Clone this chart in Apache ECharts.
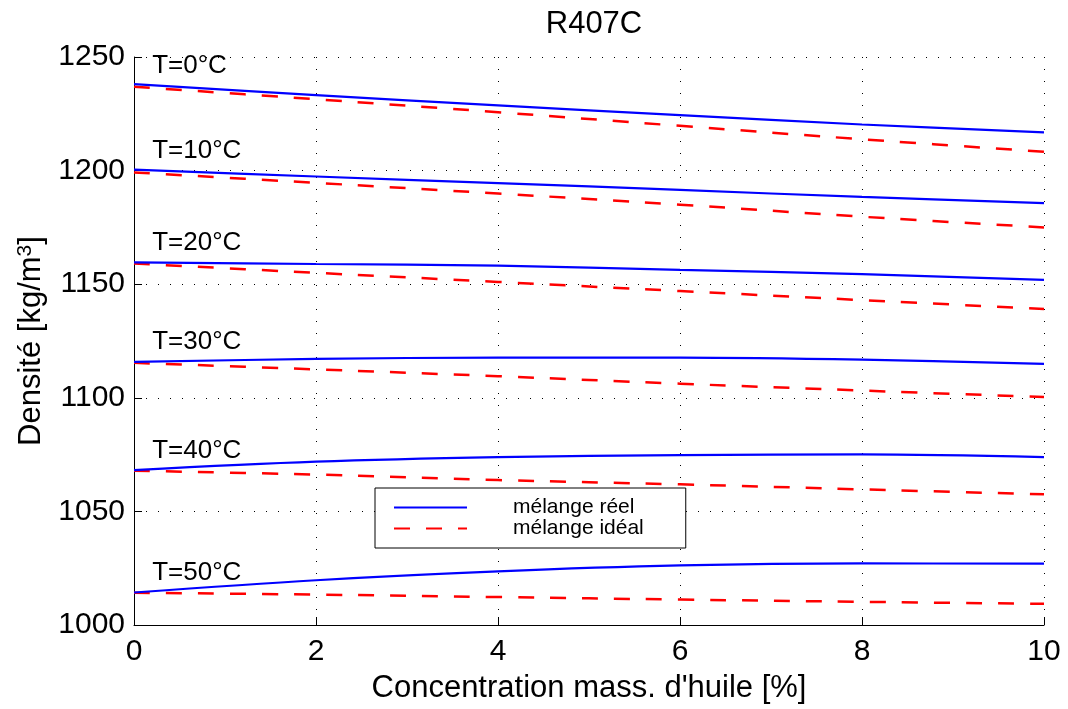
<!DOCTYPE html>
<html>
<head>
<meta charset="utf-8">
<script src="https://cdn.jsdelivr.net/npm/echarts@6/dist/echarts.min.js"></script>
<style>html,body{margin:0;padding:0;background:#fff;overflow:hidden}#c{width:1068px;height:709px}</style>
</head>
<body>
<div id="c"></div>
<script>
const xValues = [0, 2, 4, 6, 8, 10];
const tempLabels = ['T=0°C', 'T=10°C', 'T=20°C', 'T=30°C', 'T=40°C', 'T=50°C'];
const labelX = 0.2;
const labelY = [1246.0, 1208.6, 1168.0, 1124.6, 1076.7, 1022.9];

const reel0  = [1238.1, 1233.2, 1228.7, 1224.4, 1220.3, 1216.8];
const ideal0 = [1236.9, 1231.4, 1225.7, 1219.7, 1213.8, 1208.3];
const reel10  = [1200.4, 1197.4, 1194.5, 1191.5, 1188.4, 1185.7];
const ideal10 = [1199.2, 1194.6, 1189.9, 1185.0, 1179.7, 1175.0];
const reel20  = [1159.6, 1158.9, 1158.2, 1156.3, 1154.4, 1151.9];
const ideal20 = [1159.1, 1155.0, 1151.0, 1147.0, 1143.0, 1139.1];
const reel30  = [1115.8, 1117.1, 1117.7, 1117.7, 1116.8, 1114.9];
const ideal30 = [1115.4, 1112.5, 1109.5, 1106.2, 1103.2, 1100.3];
const reel40  = [1068.2, 1071.9, 1073.9, 1074.8, 1075.1, 1073.9];
const ideal40 = [1067.9, 1066.2, 1063.8, 1061.9, 1059.7, 1057.5];
const reel50  = [1014.3, 1019.7, 1023.6, 1026.2, 1027.1, 1027.0];
const ideal50 = [1014.2, 1013.4, 1012.3, 1011.2, 1010.2, 1009.3];

const yTicks = { min: 1000, max: 1250, interval: 50 };
const xTicks = { min: 0, max: 10, interval: 2 };

const reelSets = [reel0, reel10, reel20, reel30, reel40, reel50];
const idealSets = [ideal0, ideal10, ideal20, ideal30, ideal40, ideal50];
const NAME_REEL = 'mélange réel';
const NAME_IDEAL = 'mélange idéal';
const FONT = "'Liberation Sans', Arial, sans-serif";

function pairs(arr) { return arr.map((v, i) => [xValues[i], v]); }

const series = [];
reelSets.forEach(s => series.push({
  name: NAME_REEL, type: 'line', data: pairs(s), smooth: 0.35, showSymbol: false, symbol: 'none',
  lineStyle: { color: '#0000ff', width: 2.2 }, itemStyle: { color: '#0000ff' }, z: 3, silent: true
}));
idealSets.forEach(s => series.push({
  name: NAME_IDEAL, type: 'line', data: pairs(s), smooth: 0.35, showSymbol: false, symbol: 'none',
  lineStyle: { color: '#ff0000', width: 2.5, type: [16, 16] }, itemStyle: { color: '#ff0000' }, z: 2, silent: true
}));
series.push({
  type: 'scatter', name: 'labels', silent: true, symbolSize: 0,
  itemStyle: { color: '#000' },
  data: tempLabels.map((t, i) => ({ name: t, value: [labelX, labelY[i]] })),
  label: { show: true, position: 'right', distance: 0, formatter: p => p.name,
    color: '#000', opacity: 1, fontSize: 26, fontFamily: FONT }
});

const chart = echarts.init(document.getElementById('c'), null, { renderer: 'canvas' });
chart.setOption({
  animation: false,
  backgroundColor: '#fff',
  title: { text: 'R407C', left: 589, top: 4, textAlign: 'center',
    textStyle: { fontSize: 31, fontWeight: 'normal', color: '#000', fontFamily: FONT } },
  grid: { left: 134, right: 24, top: 57, bottom: 74, containLabel: false },
  legend: {
    data: [NAME_REEL, NAME_IDEAL], orient: 'vertical', left: 375, top: 488,
    backgroundColor: '#fff', borderColor: '#000', borderWidth: 1,
    padding: [9, 42, 9, 18], itemGap: 0, itemWidth: 73, itemHeight: 14,
    itemStyle: { color: 'rgba(0,0,0,0)', borderWidth: 0, opacity: 0 },
    textStyle: { fontSize: 21, color: '#000', fontFamily: FONT, padding: [0, 0, 0, 41], lineHeight: 21 }
  },
  xAxis: {
    type: 'value', min: xTicks.min, max: xTicks.max, interval: xTicks.interval,
    name: "Concentration mass. d'huile [%]", nameLocation: 'middle', nameGap: 48,
    nameTextStyle: { fontSize: 31, color: '#000', fontFamily: FONT },
    axisLine: { show: true, lineStyle: { color: '#000', width: 1 } },
    axisTick: { show: true, inside: true, length: 8, lineStyle: { color: '#000' } },
    axisLabel: { fontSize: 30, color: '#000', fontFamily: FONT, margin: 12 },
    splitLine: { show: true, lineStyle: { color: '#000', width: 1, type: [1, 11] } }
  },
  yAxis: {
    type: 'value', min: yTicks.min, max: yTicks.max, interval: yTicks.interval,
    name: 'Densité [kg/m{sup|3}]', nameLocation: 'middle', nameGap: 74,
    nameTextStyle: { fontSize: 31, color: '#000', fontFamily: FONT,
      rich: { sup: { fontSize: 21, color: '#000', fontFamily: FONT, verticalAlign: 'top', padding: [0, 0, 14, 0] } } },
    axisLine: { show: true, lineStyle: { color: '#000', width: 1 } },
    axisTick: { show: true, inside: true, length: 8, lineStyle: { color: '#000' } },
    axisLabel: { fontSize: 30, color: '#000', fontFamily: FONT, margin: 9, formatter: v => String(v) },
    splitLine: { show: true, lineStyle: { color: '#000', width: 1, type: [1, 11] } }
  },
  series: series
});
</script>
</body>
</html>
